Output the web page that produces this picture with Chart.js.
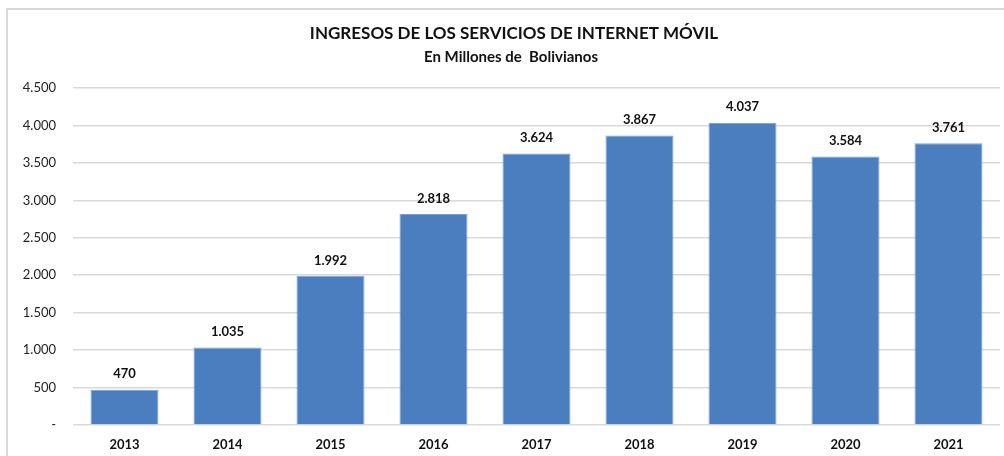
<!DOCTYPE html>
<html>
<head>
<meta charset="utf-8">
<script src="https://cdn.jsdelivr.net/npm/chart.js@4"></script>
<style>
  html, body { margin: 0; padding: 0; background: #ffffff; }
  #wrap { position: relative; width: 1004px; height: 456px; }
</style>
</head>
<body>
<div id="wrap"><canvas id="ingresosChart" width="1004" height="456"></canvas></div>
<script>
// Data
const years = ["2013", "2014", "2015", "2016", "2017", "2018", "2019", "2020", "2021"];
const ingresos = [470, 1035, 1992, 2818, 3624, 3867, 4037, 3584, 3761];
const yTicks = [0, 500, 1000, 1500, 2000, 2500, 3000, 3500, 4000, 4500];
const titleText = "INGRESOS DE LOS SERVICIOS DE INTERNET MÓVIL";
const subtitleText = "En Millones de  Bolivianos";

const FONT = "Lato, 'Open Sans', sans-serif";

// Spanish style thousands: 4.500, zero shown as "-"
function formatNum(v) {
    if (v === 0) return "-";
    return String(Math.round(v)).replace(/\B(?=(\d{3})+(?!\d))/g, ".");
}

// Light grey frame plus the two title lines (centred a bit right, as in the original)
const framePlugin = {
    id: "frame",
    beforeDraw(chart) {
        const ctx = chart.ctx;
        ctx.save();
        ctx.strokeStyle = "#d9d9d9";
        ctx.lineWidth = 2;
        ctx.beginPath();
        ctx.moveTo(7, 456);
        ctx.lineTo(7, 9);
        ctx.lineTo(1004, 9);
        ctx.stroke();

        ctx.fillStyle = "#111";
        ctx.textAlign = "center";
        ctx.textBaseline = "middle";
        ctx.font = "bold 17px " + FONT;
        ctx.fillText(titleText, 514, 34);
        ctx.font = "bold 15px " + FONT;
        ctx.fillText(subtitleText, 511, 57);
        ctx.restore();
    }
};

// Value labels above bars
const valueLabels = {
    id: "valueLabels",
    afterDatasetsDraw(chart) {
        const ctx = chart.ctx;
        const meta = chart.getDatasetMeta(0);
        ctx.save();
        ctx.font = "bold 13px " + FONT;
        ctx.fillStyle = "#111";
        ctx.textAlign = "center";
        ctx.textBaseline = "bottom";
        meta.data.forEach((bar, i) => {
            ctx.fillText(formatNum(ingresos[i]), bar.x, bar.y - 9);
        });
        ctx.restore();
    }
};

const ctx = document.getElementById("ingresosChart").getContext("2d");
new Chart(ctx, {
    type: "bar",
    data: {
        labels: years,
        datasets: [{
            data: ingresos,
            backgroundColor: "#4a7ebf",
            borderColor: "#7aa3d4",
            borderWidth: 1,
            barPercentage: 0.66,
            categoryPercentage: 1
        }]
    },
    options: {
        responsive: false,
        animation: false,
        devicePixelRatio: 1,
        layout: { padding: { left: 0, right: 4, top: 88, bottom: 0 } },
        plugins: {
            legend: { display: false },
            tooltip: { enabled: false },
            title: { display: false },
            subtitle: { display: false }
        },
        scales: {
            x: {
                grid: { display: false },
                border: { display: false },
                ticks: {
                    color: "#111",
                    font: { family: FONT, size: 13, weight: "bold" },
                    padding: 4
                },
                afterFit(scale) { scale.height = 31; }
            },
            y: {
                min: 0,
                max: 4500,
                afterBuildTicks(scale) {
                    scale.ticks = yTicks.map(v => ({ value: v }));
                },
                grid: { color: "#d9d9d9", lineWidth: 1.5, drawTicks: false },
                border: { display: false },
                ticks: {
                    color: "#222",
                    font: { family: FONT, size: 13 },
                    padding: 17,
                    callback: v => formatNum(v)
                },
                afterFit(scale) { scale.width = 73; }
            }
        }
    },
    plugins: [framePlugin, valueLabels]
});
</script>
</body>
</html>
